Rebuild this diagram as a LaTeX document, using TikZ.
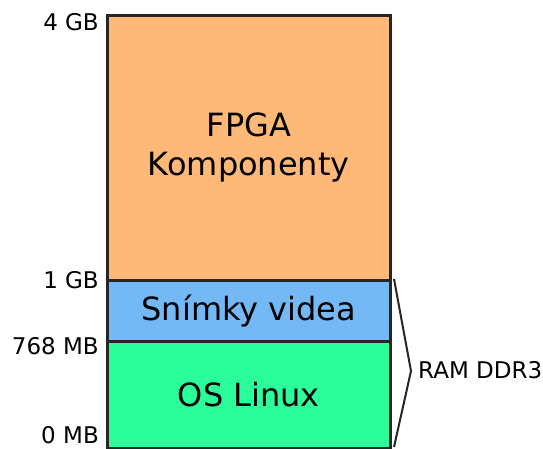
\documentclass[tikz,border=0pt]{standalone}
\usepackage{fontspec}
\setmainfont{DejaVu Sans}
\definecolor{fpgaorange}{RGB}{254,185,120}
\definecolor{framesblue}{RGB}{116,184,246}
\definecolor{linuxgreen}{RGB}{42,253,154}
\begin{document}
\begin{tikzpicture}[x=1pt,y=1pt,
  region/.style={draw=black!85, line width=2.6pt, anchor=north west, minimum width=283pt,
    inner sep=0pt, align=center, font=\fontsize{32}{39}\selectfont},
  addr/.style={anchor=east, inner sep=0pt, font=\fontsize{23}{27}\selectfont},
  brace/.style={draw=black!85, line width=2pt, line join=miter}]
\useasboundingbox (0,0) rectangle (543,449);
% memory map regions, top to bottom
\node[region, fill=fpgaorange, minimum height=265pt] (fpga) at (106,435) {FPGA\\Komponenty};
\node[region, fill=framesblue, minimum height=61pt] (frames) at (106,170) {Snímky videa};
\node[region, fill=linuxgreen, minimum height=107pt] (linux) at (106,109) {OS Linux};
% address labels
\node[addr] (a4g) at (99,427) {4 GB};
\node[addr] (a1g) at (99,169) {1 GB};
\node[addr] (a768) at (99,103) {768 MB};
\node[addr] (a0) at (99,14) {0 MB};
% angle bracket spanning the RAM part
\coordinate (btop) at (394,170);
\coordinate (btip) at (411,78);
\coordinate (bbot) at (394,2);
\draw[brace] (btop) -- (btip) -- (bbot);
\node[anchor=west, inner sep=0pt, font=\fontsize{23}{27}\selectfont] (ram) at (418,79) {RAM DDR3};
\end{tikzpicture}
\end{document}
